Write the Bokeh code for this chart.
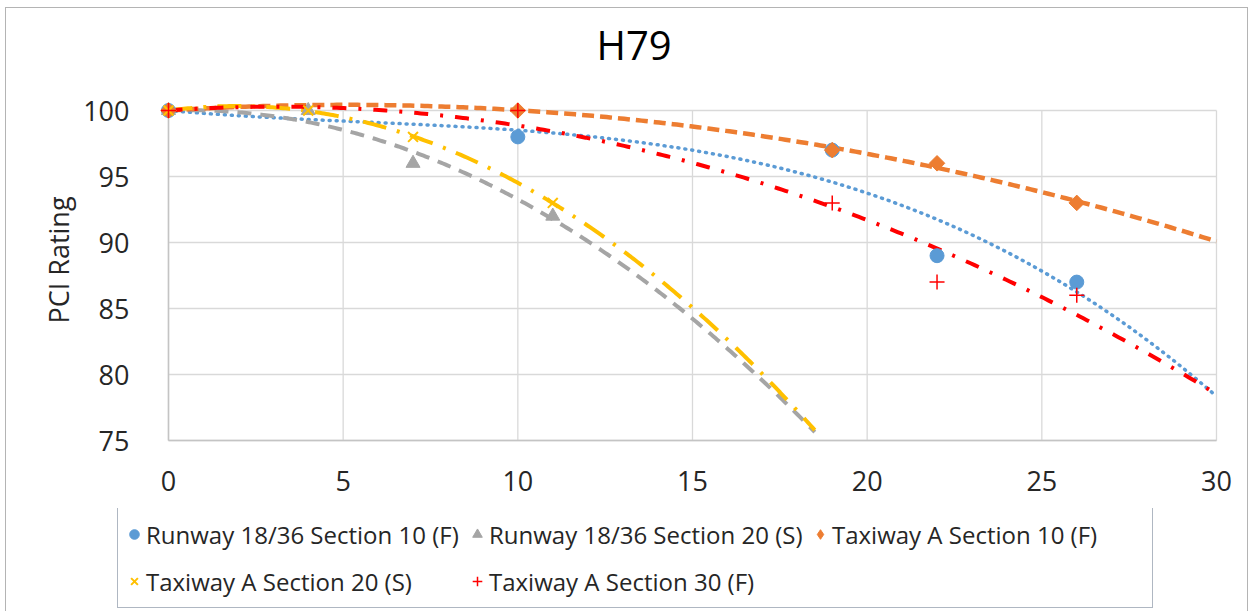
import numpy as np
from bokeh.plotting import figure
from bokeh.layouts import column
from bokeh.models import Range1d, FixedTicker, Legend, LegendItem
from bokeh.embed import file_html
from bokeh.resources import INLINE

# ---------------- data ----------------
chart_title = "H79"
y_title = "PCI Rating"

rw10_name = "Runway 18/36 Section 10 (F)"
rw10_x = [0, 10, 19, 22, 26]
rw10_y = [100, 98, 97, 89, 87]

rw20_name = "Runway 18/36 Section 20 (S)"
rw20_x = [0, 4, 7, 11]
rw20_y = [100, 100, 96, 92]

twa10_name = "Taxiway A Section 10 (F)"
twa10_x = [0, 10, 19, 22, 26]
twa10_y = [100, 100, 97, 96, 93]

twa20_name = "Taxiway A Section 20 (S)"
twa20_x = [0, 4, 7, 11]
twa20_y = [100, 100, 98, 93]

twa30_name = "Taxiway A Section 30 (F)"
twa30_x = [0, 10, 19, 22, 26]
twa30_y = [100, 100, 93, 87, 86]

# polynomial trendlines (intercept set to 100): order and forecast end (x)
trend_intercept = 100
trend_order = [3, 2, 2, 2, 2]
trend_end = [30, 18.5, 30, 18.5, 30]

x_ticks = [0, 5, 10, 15, 20, 25, 30]
y_ticks = [75, 80, 85, 90, 95, 100]

# ---------------- figure ----------------
FONT = "Open Sans"
TXT = "#262626"
BORDER = "1px solid #b4b4b4"

# axis span is 1048 x 330 px; padding (px) so edge markers are not clipped
XPAD = 10 * (x_ticks[-1] - x_ticks[0]) / 1048
YPAD_BOTTOM = 8 * (y_ticks[-1] - y_ticks[0]) / 330
YPAD_TOP = 39 * (y_ticks[-1] - y_ticks[0]) / 330

p = figure(width=1243, height=501,
           x_range=Range1d(x_ticks[0] - XPAD, x_ticks[-1] + XPAD),
           y_range=Range1d(y_ticks[0] - YPAD_BOTTOM, y_ticks[-1] + YPAD_TOP),
           output_backend="svg", toolbar_location=None,
           min_border_left=152, min_border_right=23, min_border_top=63,
           min_border_bottom=61)
p.frame_align = False
p.margin = (7, 0, 0, 5)
p.styles = {"border-left": BORDER, "border-top": BORDER, "border-right": BORDER}
p.outline_line_color = None
p.background_fill_color = "white"
p.border_fill_color = "white"
p.grid.visible = False

p.title.text = chart_title
p.title.align = "left"
p.title.offset = 438
p.title.standoff = 0
p.title.text_font = FONT
p.title.text_font_size = "40px"
p.title.text_font_style = "normal"
p.title.text_color = "#000000"

for ax in (p.xaxis[0], p.yaxis[0]):
    ax.major_tick_line_color = None
    ax.minor_tick_line_color = None
    ax.major_tick_out = 0
    ax.major_tick_in = 0
    ax.axis_line_color = None
    ax.major_label_text_font = FONT
    ax.major_label_text_font_size = "27px"
    ax.major_label_text_color = TXT

p.xaxis.ticker = FixedTicker(ticks=x_ticks)
p.yaxis.ticker = FixedTicker(ticks=y_ticks)
p.xaxis.major_label_standoff = 22
p.yaxis.major_label_standoff = 29
p.yaxis.axis_label = y_title
p.yaxis.axis_label_text_font = FONT
p.yaxis.axis_label_text_font_size = "27px"
p.yaxis.axis_label_text_font_style = "normal"
p.yaxis.axis_label_text_color = TXT
p.yaxis.axis_label_standoff = 3

# gridlines (within the axis span)
p.segment(x0=x_ticks, y0=[y_ticks[0]] * len(x_ticks), x1=x_ticks,
          y1=[y_ticks[-1]] * len(x_ticks), line_color="#d9d9d9", line_width=1.3)
p.segment(x0=[x_ticks[0]] * len(y_ticks), y0=y_ticks, x1=[x_ticks[-1]] * len(y_ticks),
          y1=y_ticks, line_color="#d9d9d9", line_width=1.3)
# axis lines
p.segment(x0=[x_ticks[0], x_ticks[0]], y0=[y_ticks[0], y_ticks[0]],
          x1=[x_ticks[0], x_ticks[-1]], y1=[y_ticks[-1], y_ticks[0]],
          line_color="#c4c4c4", line_width=1.5)

# ---------------- trendlines ----------------
series = [(rw10_x, rw10_y), (rw20_x, rw20_y), (twa10_x, twa10_y),
          (twa20_x, twa20_y), (twa30_x, twa30_y)]
line_styles = [
    dict(line_color="#5B9BD5", line_width=3.5, line_dash="1 6", line_cap="round"),
    dict(line_color="#A5A5A5", line_width=4, line_dash="14 9"),
    dict(line_color="#ED7D31", line_width=4.5, line_dash="12 6"),
    dict(line_color="#FFC000", line_width=4, line_dash="24 11 3 11"),
    dict(line_color="#FF0000", line_width=4, line_dash="14 12 3 12"),
]
for (sx, sy), order, end, st in zip(series, trend_order, trend_end, line_styles):
    xa = np.array(sx, float)
    A = np.column_stack([xa ** k for k in range(1, order + 1)])
    coef, *_ = np.linalg.lstsq(A, np.array(sy, float) - trend_intercept, rcond=None)
    xs = np.linspace(0, end, 300)
    ys = trend_intercept + sum(c * xs ** (k + 1) for k, c in enumerate(coef))
    p.line(xs, ys, **st)

# ---------------- markers ----------------
marker_styles = [
    dict(marker="circle", size=14, fill_color="#5B9BD5", line_color="#5B9BD5"),
    dict(marker="triangle", size=14, fill_color="#A5A5A5", line_color="#A5A5A5"),
    dict(marker="square", size=11, angle=np.pi / 4, fill_color="#ED7D31",
         line_color="#ED7D31"),
    dict(marker="x", size=14, line_color="#FFC000", line_width=2),
    dict(marker="cross", size=15, line_color="#FF0000", line_width=1.5),
]
for (sx, sy), ms in zip(series, marker_styles):
    p.scatter(sx, sy, **ms)

# ---------------- legend (separate strip below the chart) ----------------
names = [rw10_name, rw20_name, twa10_name, twa20_name, twa30_name]
legend_markers = ["circle", "triangle", "diamond", "x", "cross"]

p_leg = figure(width=1243, height=103, x_range=Range1d(0, 1), y_range=Range1d(0, 1),
               x_axis_type=None, y_axis_type=None, output_backend="svg",
               toolbar_location=None, min_border=0)
p_leg.frame_align = False
p_leg.margin = (0, 0, 0, 5)
p_leg.styles = {"border-left": BORDER, "border-right": BORDER}
p_leg.title.visible = False
p_leg.outline_line_color = None
p_leg.grid.visible = False
p_leg.background_fill_color = "white"
p_leg.border_fill_color = "white"

# same series in the legend strip; their values lie outside its (0, 1) view,
# so only the legend swatches are seen
items = []
for name, (sx, sy), ms, mk in zip(names, series, marker_styles, legend_markers):
    st = {k: v for k, v in ms.items() if k not in ("marker", "angle")}
    r = p_leg.scatter(sx, sy, marker=mk, **st)
    items.append(LegendItem(label=name, renderers=[r]))

legend = Legend(items=items, orientation="horizontal", ncols=3, location=(111, 3),
                glyph_width=24, glyph_height=24, label_standoff=-2,
                label_width=316, label_height=44,
                spacing=3, padding=4, margin=0,
                border_line_color="#5f6f86", border_line_width=1.5,
                background_fill_color="white", background_fill_alpha=1,
                label_text_font=FONT, label_text_font_size="24px",
                label_text_color=TXT)
p_leg.add_layout(legend)

layout = column(p, p_leg, spacing=0)
open("out.html", "w").write(file_html(layout, INLINE))
